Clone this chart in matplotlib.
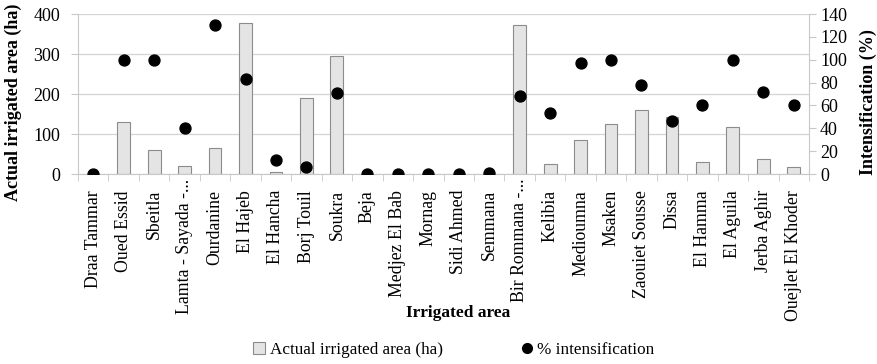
import matplotlib
matplotlib.use("Agg")
import matplotlib.pyplot as plt
import numpy as np
from matplotlib.lines import Line2D
from matplotlib.patches import Patch
from matplotlib.transforms import blended_transform_factory, ScaledTranslation

categories = ["Draa Tammar", "Oued Essid", "Sbeitla", "Lamta - Sayada -...", "Ourdanine",
              "El Hajeb", "El Hancha", "Borj Touil", "Soukra", "Beja", "Medjez El Bab",
              "Mornag", "Sidi Ahmed", "Semmana", "Bir Rommana -...", "Kelibia", "Medioumna",
              "Msaken", "Zaouiet Sousse", "Dissa", "El Hamma", "El Aguila", "Jerba Aghir",
              "Ouejlet El Khoder"]
area_ha = [0, 130, 60, 21, 64, 377, 6, 189, 294, 0, 0, 0, 0, 0, 372, 24, 85, 125,
           160, 142, 29, 118, 37, 17]
intensification = [0, 100, 100, 40, 130, 83, 12, 6, 71, 0, 0, 0, 0, 1, 68, 53, 97,
                   100, 78, 46, 60, 100, 72, 60]

plt.rcParams['font.family'] = ['Liberation Serif', 'DejaVu Serif']

W, H = 877, 364
fig = plt.figure(figsize=(W/100, H/100), dpi=100)
ax = fig.add_axes([78/W, 1-174/H, (809-78)/W, 160/H])
ax2 = ax.twinx()

x = np.arange(len(categories))
ax.bar(x, area_ha, width=0.42, color='#e4e4e4', edgecolor='#8c8c8c', linewidth=0.8, zorder=2)
ax2.scatter(x, intensification, s=62, color='black', zorder=3)

ax.set_xlim(-0.5, len(categories)-0.5)
ax.set_ylim(0, 400)
ax.set_yticks([0, 100, 200, 300, 400])
ax2.set_ylim(0, 140)
ax2.set_yticks(range(0, 141, 20))

ax.grid(axis='y', color='#d4d4d4', linewidth=0.9, zorder=0)
ax.set_axisbelow(True)

for a in (ax, ax2):
    a.spines['top'].set_visible(False)
    for s in ('left', 'right', 'bottom'):
        a.spines[s].set_color('#c8c8c8')
ax.spines['right'].set_visible(False)
ax2.spines['left'].set_visible(False)
ax2.spines['bottom'].set_visible(False)

ax.set_xticks(x)
ax.set_xticklabels([''] * len(categories))
ax.set_xticks(np.arange(-0.5, len(categories)), minor=True)
ax.tick_params(axis='x', which='major', length=0)
ax.tick_params(axis='x', which='minor', length=5, color='#c8c8c8', direction='out')
ax.tick_params(axis='y', labelsize=13, length=5, color='#c8c8c8', pad=8)
ax2.tick_params(axis='y', labelsize=13, length=5, color='#c8c8c8', pad=3)

base = blended_transform_factory(ax.transData, ax.transAxes)
for i, lab in enumerate(categories):
    dy = 5 if lab.endswith('...') else 16
    tr = base + ScaledTranslation(0, -dy/100, fig.dpi_scale_trans)
    ax.text(x[i], 0, lab, transform=tr, rotation=90, ha='center', va='top',
            fontsize=12.8, clip_on=False)

fig.text(13/W, 1-102/H, 'Actual irrigated area (ha)', rotation=90, ha='center', va='center',
         fontsize=13, fontweight='bold')
fig.text(868/W, 1-102/H, 'Intensification (%)', rotation=90, ha='center', va='center',
         fontsize=13, fontweight='bold')
fig.text(458/W, 1-313/H, 'Irrigated area', ha='center', va='center',
         fontsize=12.5, fontweight='bold')

handles = [Patch(facecolor='#e4e4e4', edgecolor='#8c8c8c', linewidth=0.8),
           Line2D([], [], marker='o', color='black', linestyle='None', markersize=7)]
fig.legend(handles, ['Actual irrigated area (ha)', '% intensification'],
           loc='center', bbox_to_anchor=(454/W, 1-350/H), ncol=2, frameon=False,
           fontsize=12.3, handlelength=0.7, handletextpad=0.25, columnspacing=4.6,
           borderpad=0.1)

fig.savefig('out.png', dpi=100)
